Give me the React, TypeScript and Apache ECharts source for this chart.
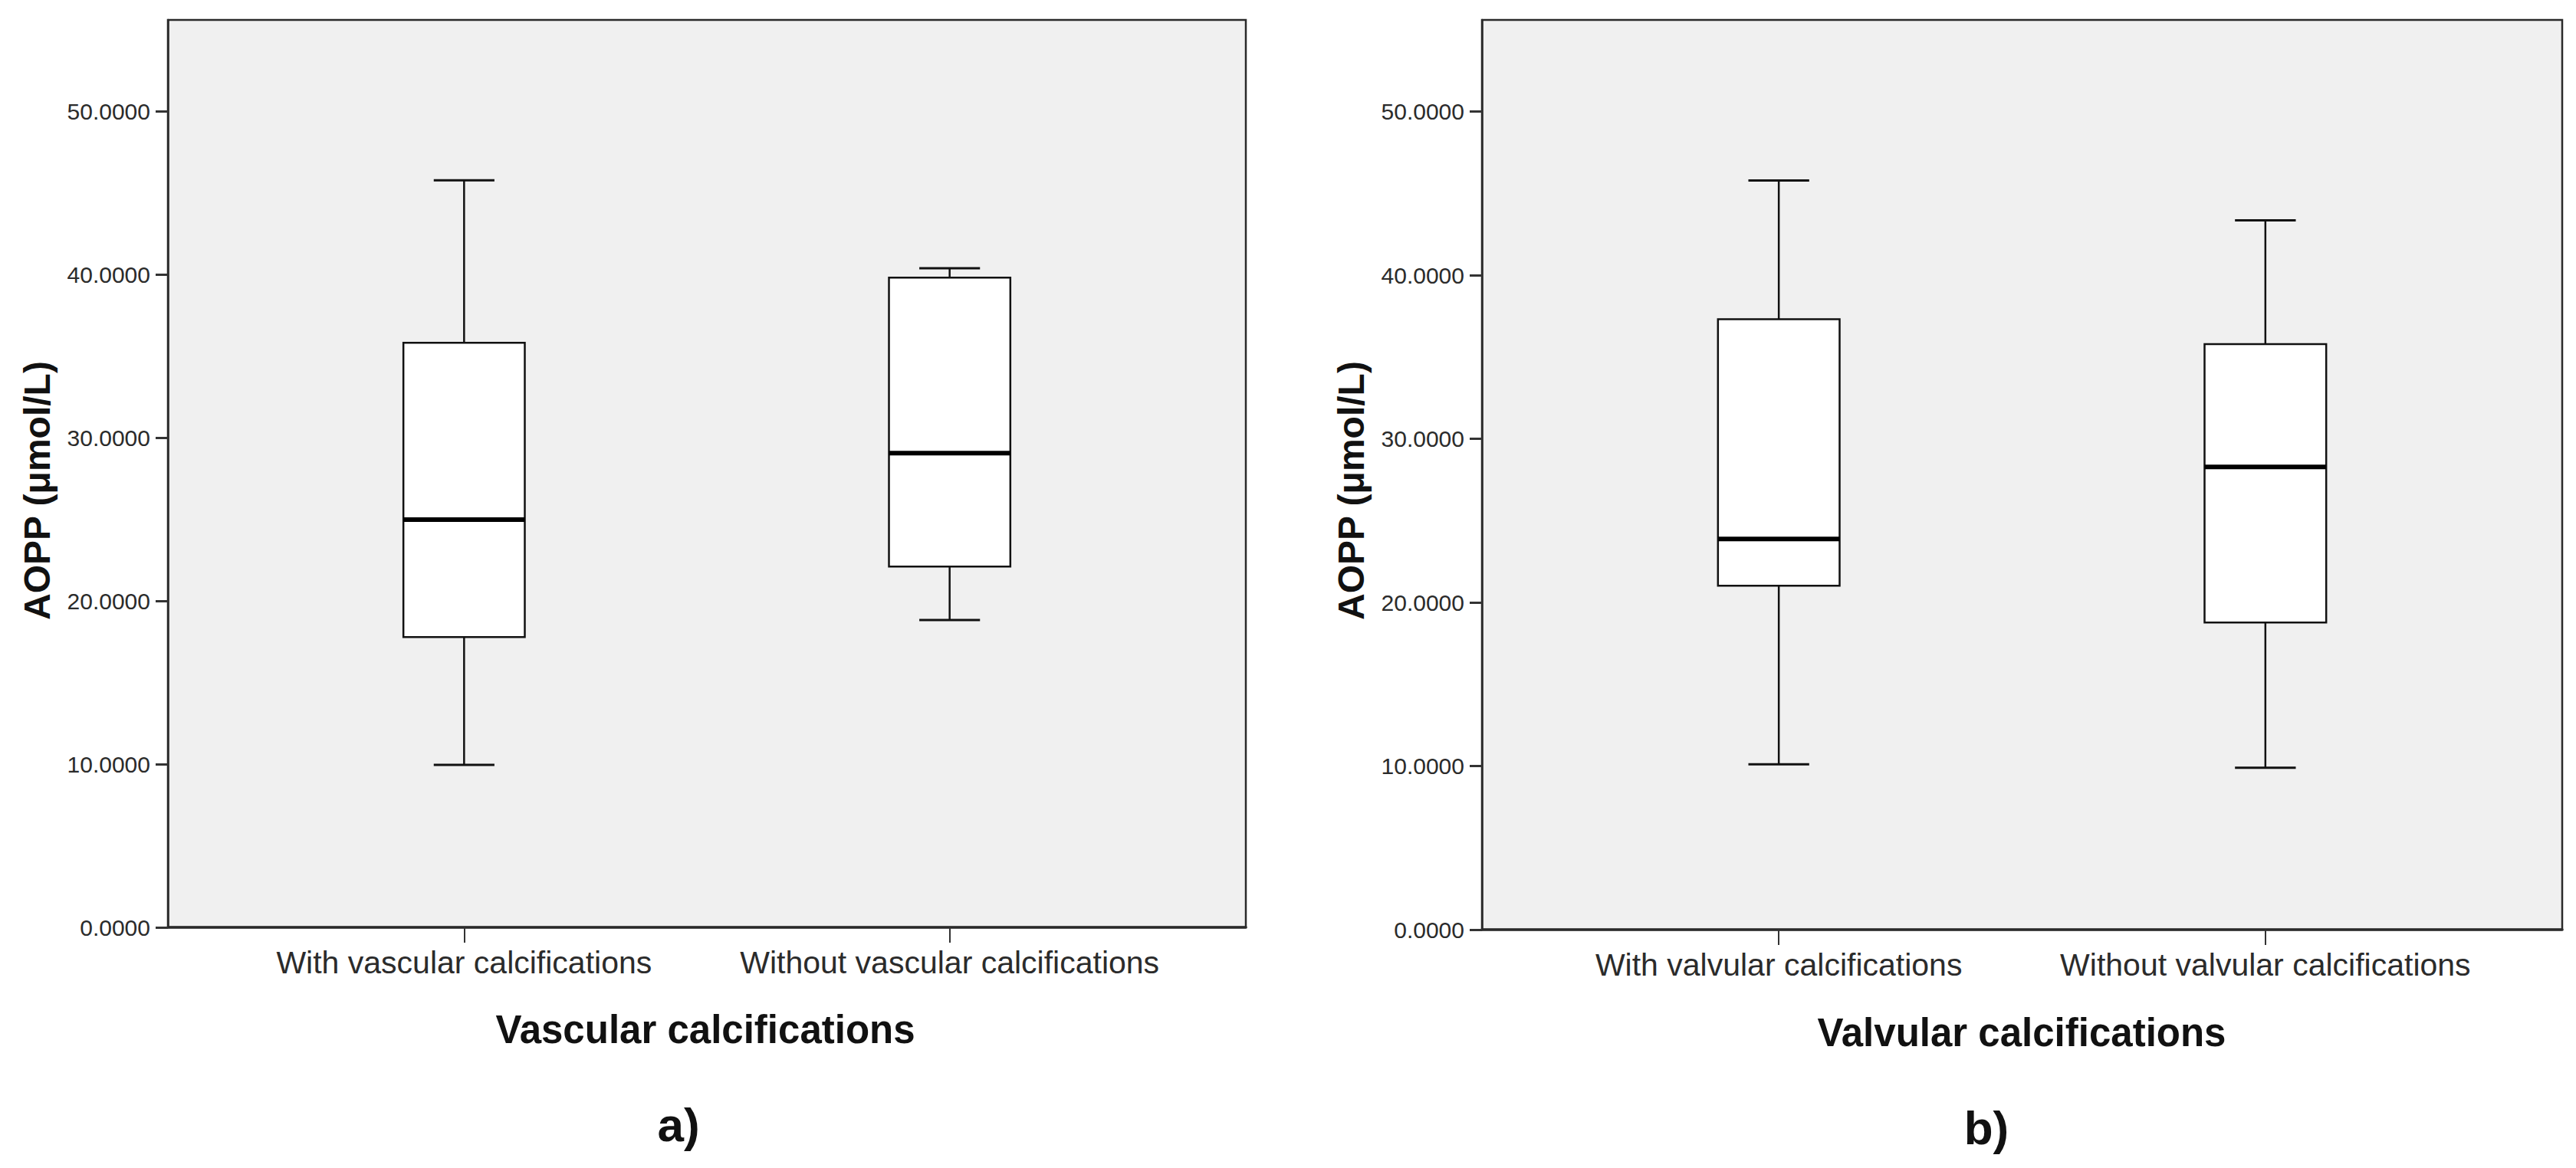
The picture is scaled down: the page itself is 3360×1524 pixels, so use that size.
import React, { useEffect, useRef } from "react";
import * as echarts from "echarts";

// ---- data ----
const vascularCategories = ["With vascular calcifications", "Without vascular calcifications"];
const vascularMin = [9.95, 18.83];
const vascularQ1 = [17.79, 22.11];
const vascularMedian = [24.98, 29.06];
const vascularQ3 = [35.82, 39.81];
const vascularMax = [45.77, 40.38];

const valvularCategories = ["With valvular calcifications", "Without valvular calcifications"];
const valvularMin = [10.11, 9.9];
const valvularQ1 = [21.02, 18.77];
const valvularMedian = [23.88, 28.28];
const valvularQ3 = [37.31, 35.79];
const valvularMax = [45.79, 43.35];

const yTicks = [0, 10, 20, 30, 40, 50];
const xPositions = [1, 2];
const yTitle = "AOPP (μmol/L)";
const vascularTitle = "Vascular calcifications";
const valvularTitle = "Valvular calcifications";
const panelLabels = ["a)", "b)"];

const FONT = '"Liberation Sans", Arial, Helvetica, sans-serif';
const BOX_HALF = 0.125;
const CAP_HALF = 0.0625;

function buildRows(mins: number[], q1: number[], med: number[], q3: number[], max: number[]) {
  return xPositions.map((x, i) => [x, mins[i], q1[i], med[i], q3[i], max[i]]);
}

function renderBox(params: any, api: any) {
  const x = api.value(0);
  const vMin = api.value(1);
  const vQ1 = api.value(2);
  const vMed = api.value(3);
  const vQ3 = api.value(4);
  const vMax = api.value(5);
  const c = api.coord([x, vMin]);
  const pMax = api.coord([x, vMax]);
  const pQ1 = api.coord([x, vQ1]);
  const pQ3 = api.coord([x, vQ3]);
  const pMed = api.coord([x, vMed]);
  const left = api.coord([x - BOX_HALF, vMed])[0];
  const right = api.coord([x + BOX_HALF, vMed])[0];
  const capL = api.coord([x - CAP_HALF, vMed])[0];
  const capR = api.coord([x + CAP_HALF, vMed])[0];
  const cx = c[0];
  const line = { stroke: "#111", lineWidth: 2.5 };
  return {
    type: "group",
    children: [
      { type: "line", shape: { x1: cx, y1: pQ3[1], x2: cx, y2: pMax[1] }, style: line },
      { type: "line", shape: { x1: cx, y1: pQ1[1], x2: cx, y2: c[1] }, style: line },
      { type: "line", shape: { x1: capL, y1: pMax[1], x2: capR, y2: pMax[1] }, style: { stroke: "#111", lineWidth: 3 } },
      { type: "line", shape: { x1: capL, y1: c[1], x2: capR, y2: c[1] }, style: { stroke: "#111", lineWidth: 3 } },
      {
        type: "rect",
        shape: { x: left, y: pQ3[1], width: right - left, height: pQ1[1] - pQ3[1] },
        style: { fill: "#ffffff", stroke: "#111", lineWidth: 2.5 },
      },
      { type: "line", shape: { x1: left, y1: pMed[1], x2: right, y2: pMed[1] }, style: { stroke: "#000", lineWidth: 6 } },
    ],
  };
}

function xAxisFor(gridIndex: number, cats: string[]) {
  return {
    type: "value",
    gridIndex,
    min: 0.39,
    max: 2.61,
    axisLine: { show: true, lineStyle: { color: "#2a2a2a", width: 3.5 } },
    axisTick: { show: true, customValues: xPositions, length: 20, lineStyle: { color: "#333", width: 2 } },
    axisLabel: {
      customValues: xPositions,
      formatter: (v: number) => cats[Math.round(v) - 1] ?? "",
      margin: 25,
      fontSize: 41,
      color: "#2b2b2b",
      fontFamily: FONT,
    },
    splitLine: { show: false },
  };
}

function yAxisFor(gridIndex: number) {
  return {
    type: "value",
    gridIndex,
    min: 0,
    max: 55.6,
    interval: 10,
    axisLine: { show: true, lineStyle: { color: "#2a2a2a", width: 2.5 } },
    axisTick: { show: true, customValues: yTicks, length: 16, lineStyle: { color: "#333", width: 3 } },
    axisLabel: {
      customValues: yTicks,
      formatter: (v: number) => v.toFixed(4),
      margin: 23,
      fontSize: 30,
      color: "#2b2b2b",
      fontFamily: FONT,
    },
    splitLine: { show: false },
  };
}

export default function App() {
  const ref = useRef<HTMLDivElement>(null);
  useEffect(() => {
    if (!ref.current) return;
    const chart = echarts.init(ref.current, undefined, { renderer: "svg" });
    const gridStyle = { show: true, backgroundColor: "#f0f0f0", borderColor: "#2a2a2a", borderWidth: 2.5 };
    chart.setOption({
      animation: false,
      backgroundColor: "#ffffff",
      grid: [
        { left: 219, top: 26, width: 1406, height: 1184, ...gridStyle },
        { left: 1933, top: 26, width: 1409, height: 1187, ...gridStyle },
      ],
      xAxis: [xAxisFor(0, vascularCategories), xAxisFor(1, valvularCategories)],
      yAxis: [yAxisFor(0), yAxisFor(1)],
      series: [
        {
          type: "custom",
          xAxisIndex: 0,
          yAxisIndex: 0,
          renderItem: renderBox,
          encode: { x: 0, y: [1, 2, 3, 4, 5] },
          data: buildRows(vascularMin, vascularQ1, vascularMedian, vascularQ3, vascularMax),
        },
        {
          type: "custom",
          xAxisIndex: 1,
          yAxisIndex: 1,
          renderItem: renderBox,
          encode: { x: 0, y: [1, 2, 3, 4, 5] },
          data: buildRows(valvularMin, valvularQ1, valvularMedian, valvularQ3, valvularMax),
        },
      ],
      graphic: [
        {
          type: "text",
          x: 48,
          y: 640,
          rotation: Math.PI / 2,
          style: { text: yTitle, font: `bold 48px ${FONT}`, fill: "#111", textAlign: "center", textVerticalAlign: "middle" },
        },
        {
          type: "text",
          x: 1762,
          y: 640,
          rotation: Math.PI / 2,
          style: { text: yTitle, font: `bold 48px ${FONT}`, fill: "#111", textAlign: "center", textVerticalAlign: "middle" },
        },
        {
          type: "text",
          x: 920,
          y: 1343,
          style: { text: vascularTitle, font: `bold 51px ${FONT}`, fill: "#111", textAlign: "center", textVerticalAlign: "middle" },
        },
        {
          type: "text",
          x: 2637,
          y: 1347,
          style: { text: valvularTitle, font: `bold 51px ${FONT}`, fill: "#111", textAlign: "center", textVerticalAlign: "middle" },
        },
        {
          type: "text",
          x: 885,
          y: 1467,
          style: { text: panelLabels[0], font: `bold 62px ${FONT}`, fill: "#111", textAlign: "center", textVerticalAlign: "middle" },
        },
        {
          type: "text",
          x: 2591,
          y: 1471,
          style: { text: panelLabels[1], font: `bold 62px ${FONT}`, fill: "#111", textAlign: "center", textVerticalAlign: "middle" },
        },
      ],
    });
    return () => chart.dispose();
  }, []);
  return (
    <div
      ref={ref}
      style={{ position: "absolute", left: 0, top: 0, width: 3360, height: 1524, background: "#fff" }}
    />
  );
}
